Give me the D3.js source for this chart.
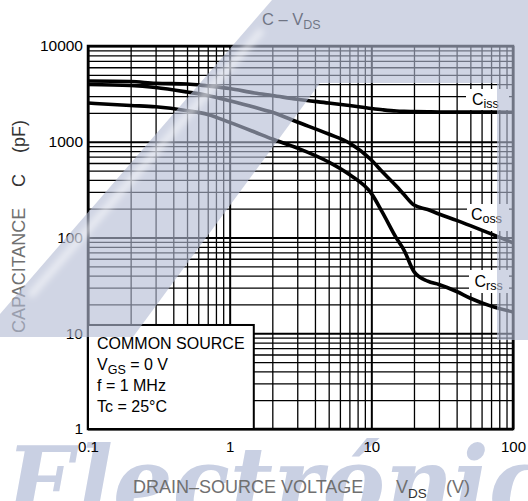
<!DOCTYPE html>
<html>
<head>
<meta charset="utf-8">
<script src="https://cdn.jsdelivr.net/npm/d3@7"></script>
<style>
body{margin:0;background:#fff}
text{font-family:"Liberation Sans",Arial,sans-serif}
</style>
</head>
<body>
<div id="chart"></div>
<script>
const width = 528
const height = 501
const margin = {top:46, left:88, right:15, bottom:72}

const vds  = [0.1, 0.2, 0.3, 0.5, 0.7, 1, 1.5, 2, 3, 5, 7, 10, 12, 15, 17, 20, 25, 30, 40, 50, 70, 100]
const ciss = [4310, 4257, 4078, 4011, 3823, 3597, 3228, 3041, 2782, 2539, 2386, 2225, 2157, 2095, 2080, 2070, 2055, 2045, 2045, 2045, 2040, 2030]
const coss = [3963, 3869, 3687, 3308, 3041, 2677, 2290, 2030, 1608, 1204, 971, 645, 483, 345, 281, 218, 196, 176, 151, 133, 109, 88]
const crss = [2539, 2391, 2316, 2110, 1930, 1593, 1264, 1069, 860, 614, 455, 289, 182, 99, 74, 44, 35, 32.3, 27.3, 23.2, 19.2, 16.7]
const seriesSubs = ["iss", "oss", "rss"]
const xTicks = [0.1, 1, 10, 100]
const yTicks = [1, 10, 100, 1000, 10000]
const conditions = [["COMMON SOURCE"], ["V", "GS", " = 0 V"], ["f = 1 MHz"], ["Tc = 25°C"]]

const w = width - margin.left - margin.right
const h = height - margin.top - margin.bottom

const svg = d3.select("div#chart").append("svg").attr("width", width).attr("height", height)

const x = d3.scaleLog().domain([0.1, 100]).range([0, w])
const y = d3.scaleLog().domain([1, 10000]).range([h, 0])

const isDecade = d => Math.abs(Math.log10(d) - Math.round(Math.log10(d))) < 1e-6
const gridX = d3.range(-1, 2).flatMap(e => d3.range(1, 10).map(k => k * 10 ** e)).concat([100])
const gridY = d3.range(0, 4).flatMap(e => d3.range(1, 10).map(k => k * 10 ** e)).concat([10000])

// watermark lettering behind the chart
svg.append("text")
    .attr("x", 6).attr("y", 518)
    .attr("textLength", 540).attr("lengthAdjust", "spacingAndGlyphs")
    .style("font-family", "DejaVu Serif").style("font-weight", "bold").style("font-style", "italic")
    .style("font-size", "100px").attr("fill", "#c9d0e3")
    .text("Electrónic")

const plot = svg.append("g").attr("transform", `translate(${margin.left}, ${margin.top})`)

// grid
const gx = plot.append("g").attr("transform", `translate(0, ${h})`)
    .call(d3.axisBottom(x).tickValues(gridX).tickSize(-h).tickFormat(""))
gx.select(".domain").remove()
gx.selectAll("line").attr("stroke", "#000").attr("stroke-width", d => isDecade(d) ? 2 : 1.3)

const gy = plot.append("g")
    .call(d3.axisLeft(y).tickValues(gridY).tickSize(-w).tickFormat(""))
gy.select(".domain").remove()
gy.selectAll("line").attr("stroke", "#000").attr("stroke-width", d => isDecade(d) ? 2 : 1.3)

plot.append("rect").attr("width", w).attr("height", h)
    .attr("fill", "none").attr("stroke", "#000").attr("stroke-width", 2.5)

// condition box
plot.append("rect")
    .attr("x", x(0.1)).attr("y", y(12.2))
    .attr("width", x(1.48) - x(0.1)).attr("height", y(1) - y(12.2))
    .attr("fill", "#fff").attr("stroke", "#000").attr("stroke-width", 2)

const cond = plot.append("g").attr("font-size", 16)
conditions.forEach((parts, i) => {
    const t = cond.append("text").attr("x", 9).attr("y", y(12.2) + 24 + i * 21)
    parts.forEach((p, j) => {
        const s = t.append("tspan").text(p)
        if (parts.length > 1 && j == 1) s.attr("font-size", 12.5).attr("dy", 4)
        if (parts.length > 1 && j == 2) s.attr("dy", -4)
    })
})

// label boxes
const labelPos = [{bx:378, by:43, bw:43, bh:21, tx:384, ty:59},
                  {bx:379, by:158, bw:42, bh:27, tx:383, ty:174},
                  {bx:381, by:224, bw:40, bh:23, tx:386.5, ty:241}]
labelPos.forEach(p => {
    plot.append("rect").attr("x", p.bx).attr("y", p.by).attr("width", p.bw).attr("height", p.bh).attr("fill", "#fff")
})

// curves
const line = d3.line().x(d => x(d[0])).y(d => y(d[1])).curve(d3.curveMonotoneX)
;[ciss, coss, crss].forEach(s => {
    plot.append("path")
        .datum(vds.map((v, i) => [v, s[i]]))
        .attr("d", line)
        .attr("fill", "none").attr("stroke", "#000").attr("stroke-width", 3.6)
})

seriesSubs.forEach((sub, i) => {
    const p = labelPos[i]
    const t = plot.append("text").attr("x", p.tx).attr("y", p.ty).attr("font-size", 16)
    t.append("tspan").text("C")
    t.append("tspan").text(sub).attr("font-size", 12.5).attr("dy", 3)
})

// tick labels
const xAx = plot.append("g").attr("transform", `translate(0, ${h})`)
    .call(d3.axisBottom(x).tickValues(xTicks).tickSize(0).tickPadding(12).tickFormat(d => d))
xAx.select(".domain").remove()
xAx.selectAll("text").attr("font-size", 15).attr("fill", "#000")
    .style("font-family", "Liberation Sans, Arial, sans-serif")

const yAx = plot.append("g")
    .call(d3.axisLeft(y).tickValues(yTicks).tickSize(0).tickPadding(5).tickFormat(d => d))
yAx.select(".domain").remove()
yAx.selectAll("text").attr("font-size", 15.5).attr("fill", "#000")
    .style("font-family", "Liberation Sans, Arial, sans-serif")

// titles
const title = svg.append("text").attr("x", 262).attr("y", 25).attr("font-size", 16.5)
title.append("tspan").text("C – V")
title.append("tspan").text("DS").attr("font-size", 12.5).attr("dy", 4)

const xt = svg.append("text").attr("y", 493).attr("font-size", 18).attr("fill", "#707070")
xt.append("tspan").attr("x", 133).text("DRAIN–SOURCE VOLTAGE")
xt.append("tspan").attr("x", 396).text("V")
xt.append("tspan").text("DS").attr("font-size", 13.5).attr("dy", 5).attr("fill", "#333")
xt.append("tspan").attr("x", 446).attr("dy", -5).text("(V)")

const yt = svg.append("text").attr("transform", "translate(25, 333) rotate(-90)").attr("font-size", 18)
yt.append("tspan").attr("x", 0).attr("fill", "#707070").text("CAPACITANCE")
yt.append("tspan").attr("x", 146).attr("fill", "#333").text("C")
yt.append("tspan").attr("x", 180).attr("fill", "#333").text("(pF)")

// translucent watermark band on top
const defs = svg.append("defs")
defs.append("filter").attr("id", "blur").append("feGaussianBlur").attr("stdDeviation", 3)
svg.append("polygon")
    .attr("points", "272,0 528,0 528,340 497,340 497,83 320,83 133,337 0,337 0,314")
    .attr("fill", "rgb(179,187,211)").attr("fill-opacity", 0.62)
svg.append("line")
    .attr("x1", 30).attr("y1", 296).attr("x2", 262).attr("y2", 30)
    .attr("stroke", "#fff").attr("stroke-opacity", 0.55).attr("stroke-width", 7)
    .attr("filter", "url(#blur)")
</script>
</body>
</html>
